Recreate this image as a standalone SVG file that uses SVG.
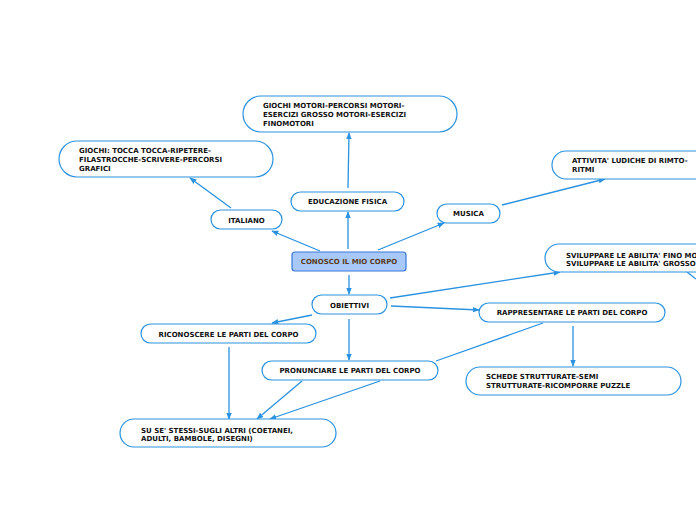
<svg xmlns="http://www.w3.org/2000/svg" width="696" height="520" viewBox="0 0 696 520">
<defs>
<marker id="ar" viewBox="0 0 10 10" refX="9" refY="5" markerWidth="7" markerHeight="7" orient="auto" markerUnits="userSpaceOnUse">
<path d="M0,1 L10,5 L0,9 z" fill="#2a92e0"/>
</marker>
<style>
.n{fill:#fff;stroke:#2a92e0;stroke-width:1.2}
.t{font-family:"DejaVu Sans",Verdana,sans-serif;font-weight:bold;font-size:7px;fill:#111}
.c{text-anchor:middle}
.e{fill:none;stroke:#2a92e0;stroke-width:1.3}
</style>
</defs>
<rect width="696" height="520" fill="#fff"/>
<g id="connectors">
<line class="e" x1="320" y1="251" x2="272" y2="231" marker-end="url(#ar)"/>
<line class="e" x1="348" y1="249" x2="348" y2="212" marker-end="url(#ar)"/>
<line class="e" x1="378" y1="250" x2="444" y2="223" marker-end="url(#ar)"/>
<line class="e" x1="348" y1="188" x2="349" y2="133" marker-end="url(#ar)"/>
<line class="e" x1="231" y1="208" x2="190" y2="178" marker-end="url(#ar)"/>
<line class="e" x1="502" y1="205" x2="605" y2="179" marker-end="url(#ar)"/>
<line class="e" x1="349" y1="275" x2="349" y2="294" marker-end="url(#ar)"/>
<line class="e" x1="390" y1="298" x2="560" y2="272" marker-end="url(#ar)"/>
<line class="e" x1="391" y1="306" x2="479" y2="310" marker-end="url(#ar)"/>
<line class="e" x1="312" y1="315" x2="272" y2="323" marker-end="url(#ar)"/>
<line class="e" x1="349" y1="319" x2="349" y2="360" marker-end="url(#ar)"/>
<line class="e" x1="543" y1="323" x2="436" y2="361"/>
<line class="e" x1="573" y1="326" x2="573" y2="366" marker-end="url(#ar)"/>
<line class="e" x1="229" y1="347" x2="229" y2="419" marker-end="url(#ar)"/>
<line class="e" x1="302" y1="381" x2="257" y2="419" marker-end="url(#ar)"/>
<line class="e" x1="380" y1="381" x2="270" y2="419" marker-end="url(#ar)"/>
<line class="e" x1="687" y1="272" x2="696" y2="279"/>
</g>
<g id="center">
<rect x="292" y="252" width="114" height="19" rx="3" fill="#a8c8f8" stroke="#3a78d8" stroke-width="1.2"/>
<text class="t c" x="349" y="263.5" style="fill:#5a3a1a">CONOSCO IL MIO CORPO</text>
</g>
<g id="educazione">
<rect class="n" x="291" y="192" width="113" height="19" rx="9.5"/>
<text class="t c" x="347.5" y="203.5">EDUCAZIONE FISICA</text>
</g>
<g id="giochi-motori">
<rect class="n" x="243" y="96" width="214" height="36" rx="18"/>
<text class="t" x="263" y="107.5">GIOCHI MOTORI-PERCORSI MOTORI-</text>
<text class="t" x="263" y="116.5">ESERCIZI GROSSO MOTORI-ESERCIZI</text>
<text class="t" x="263" y="125.5">FINOMOTORI</text>
</g>
<g id="italiano">
<rect class="n" x="211" y="210" width="71" height="19" rx="9.5"/>
<text class="t c" x="246.5" y="222.5">ITALIANO</text>
</g>
<g id="giochi-tocca">
<rect class="n" x="59" y="141" width="214" height="36" rx="18"/>
<text class="t" x="79" y="152.5">GIOCHI: TOCCA TOCCA-RIPETERE-</text>
<text class="t" x="79" y="161.5">FILASTROCCHE-SCRIVERE-PERCORSI</text>
<text class="t" x="79" y="170.5">GRAFICI</text>
</g>
<g id="musica">
<rect class="n" x="437" y="204" width="63" height="19" rx="9.5"/>
<text class="t c" x="468.5" y="215.5">MUSICA</text>
</g>
<g id="attivita">
<rect class="n" x="552" y="151" width="170" height="28" rx="14"/>
<text class="t" x="572" y="163">ATTIVITA' LUDICHE DI RIMTO-</text>
<text class="t" x="572" y="172">RITMI</text>
</g>
<g id="sviluppare">
<rect class="n" x="545" y="244" width="170" height="28" rx="14"/>
<text class="t" x="566" y="257.5">SVILUPPARE LE ABILITA' FINO MOTORIE</text>
<text class="t" x="566" y="265.5">SVILUPPARE LE ABILITA' GROSSO MOTORIE</text>
</g>
<g id="obiettivi">
<rect class="n" x="312" y="295" width="75" height="19" rx="9.5"/>
<text class="t c" x="349.5" y="307.5">OBIETTIVI</text>
</g>
<g id="riconoscere">
<rect class="n" x="141" y="324" width="175" height="19" rx="9.5"/>
<text class="t c" x="228.5" y="336.5">RICONOSCERE LE PARTI DEL CORPO</text>
</g>
<g id="rappresentare">
<rect class="n" x="479" y="303" width="186" height="19" rx="9.5"/>
<text class="t c" x="572" y="315">RAPPRESENTARE LE PARTI DEL CORPO</text>
</g>
<g id="pronunciare">
<rect class="n" x="262" y="361" width="176" height="19" rx="9.5"/>
<text class="t c" x="350" y="372.5">PRONUNCIARE LE PARTI DEL CORPO</text>
</g>
<g id="schede">
<rect class="n" x="466" y="367" width="215" height="28" rx="14"/>
<text class="t" x="486" y="378.5">SCHEDE STRUTTURATE-SEMI</text>
<text class="t" x="486" y="387.5">STRUTTURATE-RICOMPORRE PUZZLE</text>
</g>
<g id="su-se">
<rect class="n" x="120" y="419" width="216" height="28" rx="14"/>
<text class="t" x="141" y="432.5">SU SE' STESSI-SUGLI ALTRI (COETANEI,</text>
<text class="t" x="141" y="440.5">ADULTI, BAMBOLE, DISEGNI)</text>
</g>
</svg>
